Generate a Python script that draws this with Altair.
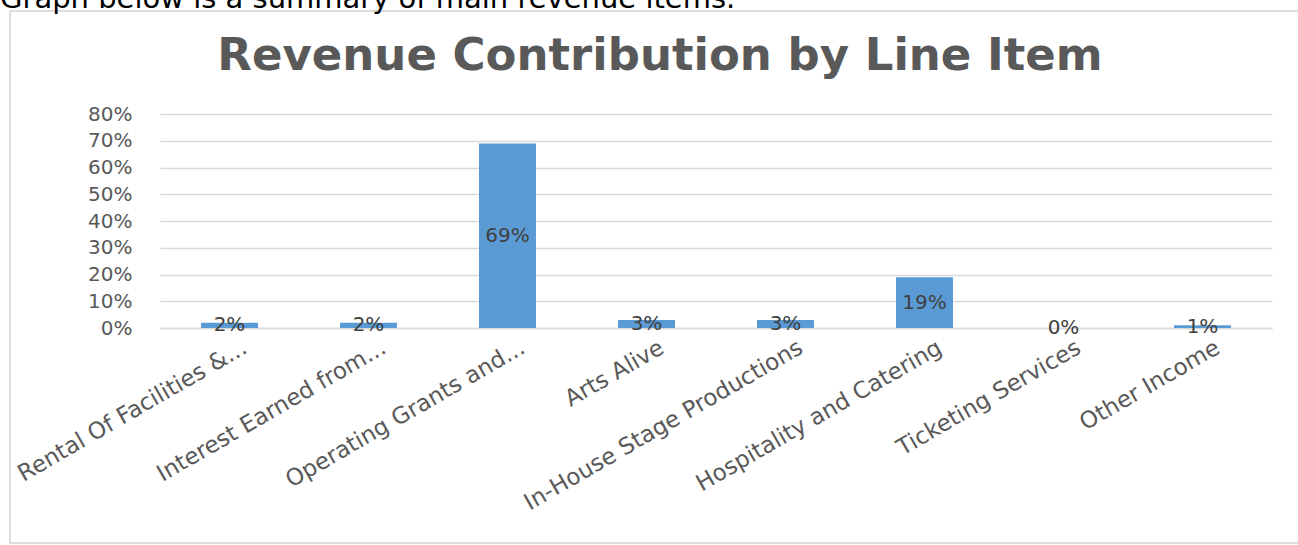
import altair as alt
import pandas as pd

categories = [
    "Rental Of Facilities &...",
    "Interest Earned from...",
    "Operating Grants and...",
    "Arts Alive",
    "In-House Stage Productions",
    "Hospitality and Catering",
    "Ticketing Services",
    "Other Income",
]
shares = [0.02, 0.02, 0.69, 0.03, 0.03, 0.19, 0.00, 0.01]
y_ticks = [0, 0.1, 0.2, 0.3, 0.4, 0.5, 0.6, 0.7, 0.8]
chart_title = "Revenue Contribution by Line Item"
caption = "Graph below is a summary of main revenue items."

df = pd.DataFrame({"item": categories, "share": shares})
one = pd.DataFrame({"k": [0]})

FONT = "DejaVu Sans"
GRAY = "#595959"

x_axis = alt.Axis(
    labelAngle=-30,
    labelAlign="right",
    labelBaseline="top",
    labelOffset=10,
    labelPadding=8,
    labelFont=FONT,
    labelFontSize=23,
    labelColor=GRAY,
    labelLimit=600,
    labelOverlap=False,
    ticks=False,
    domain=True,
    domainColor="#d9d9d9",
    domainWidth=1.5,
    grid=False,
)
y_axis = alt.Axis(
    values=y_ticks,
    format=".0%",
    labelFont=FONT,
    labelFontSize=20,
    labelColor=GRAY,
    labelPadding=28,
    labelOverlap=False,
    labelFlush=False,
    ticks=False,
    domain=False,
    grid=True,
    gridColor="#d9d9d9",
    gridWidth=1.5,
)
x_scale = alt.Scale(paddingInner=0.59, paddingOuter=0.295)
y_scale = alt.Scale(domain=[0, 0.8], nice=False)

border = alt.Chart(one).mark_rect(
    fillOpacity=0, stroke="#d4d4d4", strokeWidth=1.5
).encode(
    x=alt.value(-150), x2=alt.value(1150), y=alt.value(-103), y2=alt.value(429)
)

cap = alt.Chart(one).mark_text(
    align="left", baseline="alphabetic", font=FONT, fontSize=29, color="#000000"
).encode(x=alt.value(-160), y=alt.value(-106), text=alt.value(caption))

title = alt.Chart(one).mark_text(
    align="center", baseline="alphabetic", font=FONT, fontSize=45,
    fontWeight="bold", color=GRAY
).encode(x=alt.value(500), y=alt.value(-44), text=alt.value(chart_title))

bars = alt.Chart(df).mark_bar(color="#5b9bd5").encode(
    x=alt.X("item:N", sort=categories, title=None, scale=x_scale, axis=x_axis),
    y=alt.Y("share:Q", title=None, scale=y_scale, axis=y_axis),
)

labels = alt.Chart(df).transform_calculate(
    mid="datum.share / 2"
).mark_text(
    font=FONT, fontSize=20, color="#404040", baseline="middle", align="center"
).encode(
    x=alt.X("item:N", sort=categories, title=None, scale=x_scale, axis=x_axis),
    y=alt.Y("mid:Q", title=None, scale=y_scale, axis=y_axis),
    text=alt.Text("share:Q", format=".0%"),
)

chart = alt.layer(border, cap, title, bars, labels).properties(
    width=1112,
    height=214,
    autosize="none",
    padding={"left": 160, "top": 114, "right": 26, "bottom": 217},
    background="white",
).configure_view(stroke=None)

chart.save("out.html", embed_options={"renderer": "svg", "actions": False})
